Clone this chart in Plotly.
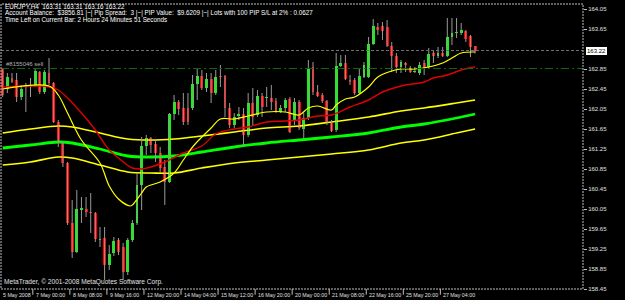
import plotly.graph_objects as go

# ---------------- data (EURJPY H4) ----------------
opens = [162.85,162.45,162.67,162.63,162.29,162.49,162.51,162.53,162.79,162.39,
         162.77,162.57,161.79,161.37,160.97,159.77,159.19,160.03,160.05,159.99,
         159.97,159.43,159.47,158.93,159.17,159.43,159.29,158.79,159.43,159.77,
         160.53,161.31,161.47,161.35,161.17,160.89,160.59,161.95,162.19,162.07,
         162.07,162.07,162.55,162.71,162.47,162.65,162.37,162.71,162.71,162.07,
         161.73,161.91,161.95,161.53,162.17,161.93,162.31,162.27,162.27,162.21,
         161.99,162.07,162.25,161.83,162.19,161.65,161.87,162.89,162.39,162.33,
         162.21,161.77,161.63,162.91,162.97,162.63,162.63,162.37,162.69,162.69,
         163.35,163.69,163.71,163.69,163.31,163.11,162.89,162.97,162.85,162.79,
         162.77,162.97,162.89,163.17,163.11,163.17,163.11,163.49,163.57,163.57,
         163.61,163.51,163.31]
highs = [162.87,162.77,162.77,162.77,162.53,162.57,162.67,162.87,162.81,162.83,
         163.07,162.59,161.83,161.39,160.99,160.23,160.43,160.29,160.29,160.37,
         159.99,159.69,159.69,159.33,159.49,159.47,159.37,159.47,159.83,160.77,
         161.49,161.53,161.49,161.43,161.29,161.03,161.97,162.33,162.23,162.37,
         162.37,162.73,162.87,162.83,162.77,162.77,162.83,162.93,162.73,162.17,
         161.97,162.09,162.07,162.37,162.47,162.43,162.37,162.49,162.53,162.27,
         162.13,162.27,162.29,162.27,162.23,161.97,163.03,162.99,162.53,162.37,
         162.23,161.83,163.17,163.13,163.13,162.73,162.67,162.87,162.99,163.49,
         163.85,163.77,163.79,163.83,163.39,163.17,163.03,162.99,162.91,162.89,
         162.99,163.03,163.27,163.23,163.29,163.29,163.87,163.87,163.87,163.77,
         163.63,163.53,163.31]
lows = [162.29,162.37,162.57,162.19,162.23,161.99,162.29,162.49,162.35,162.35,
        162.53,161.77,161.29,160.89,159.73,159.07,159.17,159.77,159.89,159.57,
        159.39,159.29,158.63,158.83,159.11,159.13,158.63,158.73,159.39,159.73,
        160.03,161.13,161.17,160.99,160.77,160.13,160.57,161.83,161.93,161.73,
        161.73,162.03,162.23,162.43,162.39,162.17,162.33,162.49,161.89,161.67,
        161.67,161.83,161.29,161.49,161.73,161.89,161.89,162.09,162.03,161.97,
        161.97,161.99,161.57,161.73,161.63,161.47,161.83,162.33,162.29,162.17,
        161.73,161.59,161.59,162.89,162.63,162.53,162.33,162.35,162.67,162.67,
        163.33,163.53,163.43,163.29,162.79,162.77,162.77,162.79,162.77,162.77,
        162.73,162.73,162.87,162.97,163.07,163.09,163.09,163.33,163.47,163.53,
        163.39,163.09,163.16]
closes = [162.33,162.69,162.59,162.29,162.45,162.53,162.53,162.81,162.39,162.79,
          162.57,161.79,161.39,160.97,159.77,159.19,160.05,160.07,159.99,159.97,
          159.45,159.45,158.93,159.15,159.41,159.19,158.79,159.43,159.77,160.53,
          161.31,161.47,161.33,161.17,160.87,160.59,161.95,162.19,162.05,161.79,
          161.79,162.55,162.71,162.47,162.65,162.37,162.69,162.69,162.07,161.73,
          161.89,161.95,161.53,162.17,161.89,162.31,162.09,162.29,162.19,161.99,
          162.07,162.23,161.59,162.19,161.67,161.87,162.87,162.39,162.31,162.21,
          161.77,161.61,162.91,162.97,162.65,162.59,162.37,162.71,162.93,163.35,
          163.71,163.63,163.61,163.31,163.11,162.89,162.99,162.93,162.79,162.81,
          162.93,162.87,163.15,163.11,163.17,163.11,163.49,163.57,163.59,163.63,
          163.45,163.29,163.22]

# moving averages / envelope (bar index, price)
ma_fast_x = [0,10,12,14,17,21,23,25,27.5,28,30,31,34,37,39,41,43,45,47,50,53,57,61,64,66,68,71,72,74,76,79,81,84,86,89,92,95,97,99,102]
ma_fast_y = [162.45,162.51,162.33,161.97,161.43,160.97,160.51,160.25,160.11,160.13,160.37,160.49,160.59,160.77,161.03,161.29,161.49,161.67,161.85,161.85,161.91,161.99,161.99,161.93,162.07,162.11,162.03,162.13,162.25,162.29,162.49,162.69,162.81,162.85,162.85,162.89,162.97,163.07,163.17,163.19]
ma_red_x = [0,8,10,12,14,17,20,21,23,25,28,30,32,35,39,43,46,50,53,57,61,64,68,71,75,79,82,86,91,93,96,99,102]
ma_red_y = [162.49,162.51,162.49,162.43,162.27,161.97,161.63,161.49,161.23,161.07,160.87,160.85,160.89,160.99,161.17,161.31,161.55,161.65,161.69,161.79,161.81,161.83,161.91,161.93,162.09,162.23,162.39,162.51,162.59,162.67,162.73,162.83,162.89]
env_x = [0,6,12,15,21,27,32,37,43,50,57,64,71,79,86,91,98,102]
env_upper = [161.57,161.65,161.71,161.69,161.57,161.45,161.43,161.45,161.51,161.59,161.67,161.71,161.79,161.89,162.01,162.07,162.17,162.23]
env_mid = [161.27,161.33,161.39,161.37,161.25,161.11,161.09,161.11,161.19,161.29,161.37,161.43,161.49,161.57,161.69,161.75,161.87,161.95]
env_lower = [160.93,160.99,161.09,161.07,160.93,160.79,160.77,160.77,160.87,160.97,161.03,161.09,161.15,161.23,161.37,161.43,161.57,161.65]

bid_price = 163.22
order_price = 162.86

ytick_vals = [164.05,163.65,162.85,162.45,162.05,161.65,161.25,160.85,160.45,160.05,159.65,159.25,158.85,158.45]
xtick_idx = [6.5,14.5,22.5,30.5,38.5,46.5,54.5,62.5,70.5,78.5,86.5,94.5]
xtick_text = ["7 May 00:00","8 May 08:00","9 May 16:00","12 May 20:00","14 May 04:00",
              "15 May 12:00","16 May 20:00","20 May 00:00","21 May 08:00","22 May 16:00",
              "25 May 20:00","27 May 04:00"]

# ---------------- figure ----------------
W, H = 625, 300
L, R, T, B = 1, 42, 4, 11
XR = [-0.37, 125.3]
YR = [158.45, 164.15]
FONT = "Liberation Sans, Arial"

n = len(opens)
idx = list(range(n))

fig = go.Figure()

# envelope + MAs (behind candles)
fig.add_trace(go.Scatter(x=env_x, y=env_upper, mode="lines", line=dict(color="#FFFF00", width=1.6, shape="spline"), hoverinfo="skip"))
fig.add_trace(go.Scatter(x=env_x, y=env_lower, mode="lines", line=dict(color="#FFFF00", width=1.6, shape="spline"), hoverinfo="skip"))
fig.add_trace(go.Scatter(x=env_x, y=env_mid, mode="lines", line=dict(color="#00FF00", width=2.8, shape="spline"), hoverinfo="skip"))

# wicks
wx, wy = [], []
for i in idx:
    wx += [i, i, None]
    wy += [lows[i], highs[i], None]
fig.add_trace(go.Scatter(x=wx, y=wy, mode="lines", line=dict(color="#9A9A9A", width=1), hoverinfo="skip"))

# bodies
base = [min(o, c) for o, c in zip(opens, closes)]
hgt = [abs(c - o) for o, c in zip(opens, closes)]
cols = ["#00FF00" if c > o else "#FF0000" for o, c in zip(opens, closes)]
fig.add_trace(go.Bar(x=idx, y=hgt, base=base, width=0.62, marker=dict(color=cols, line=dict(width=0)), hoverinfo="skip"))

fig.add_trace(go.Scatter(x=ma_red_x, y=ma_red_y, mode="lines", line=dict(color="#E00000", width=1.4, shape="spline"), hoverinfo="skip"))
fig.add_trace(go.Scatter(x=ma_fast_x, y=ma_fast_y, mode="lines", line=dict(color="#FFFF00", width=1.2, shape="spline"), hoverinfo="skip"))

shapes = []
# bid line & order line
shapes.append(dict(type="line", xref="paper", yref="y", x0=0, x1=1, y0=bid_price, y1=bid_price,
                   line=dict(color="#707070", width=1, dash="3px,2px")))
shapes.append(dict(type="line", xref="paper", yref="y", x0=0, x1=1, y0=order_price, y1=order_price,
                   line=dict(color="#0A6A0A", width=1, dash="8px,3px,2px,3px")))
# frame
shapes.append(dict(type="rect", xref="paper", yref="paper", x0=0, x1=1, y0=0, y1=1,
                   line=dict(color="#C0C0C0", width=1, dash="2px,1px")))
# x tick marks
for t in xtick_idx:
    shapes.append(dict(type="line", xref="x", yref="paper", x0=t, x1=t, y0=0, y1=-0.02,
                       line=dict(color="#C0C0C0", width=1)))

XF = dict(family=FONT, size=5.3, color="#E0E0E0")
annotations = []
# x labels
annotations.append(dict(text="5 May 2008", xref="paper", yref="paper", x=0, y=-0.005, xanchor="left", yanchor="top",
                        showarrow=False, font=XF))
for t, s in zip(xtick_idx, xtick_text):
    annotations.append(dict(text=s, xref="x", yref="paper", x=t, y=-0.005, xanchor="left", yanchor="top",
                            xshift=1, showarrow=False, font=XF))
# current price box
annotations.append(dict(text="163.22", xref="paper", yref="y", x=1, y=bid_price, xanchor="left", yanchor="middle",
                        xshift=3, showarrow=False, bgcolor="#FFFFFF", bordercolor="#FFFFFF", borderpad=0,
                        font=dict(family=FONT, size=6, color="#000000")))
# header texts
hdr = ["EURJPY,H4  163.31 163.31 163.16 163.22",
       "Account Balance:  $3856.81 |~| Pip Spread:  3 |~| PIP Value:  $9.6209 |~| Lots with 100 PIP S/L at 2% : 0.0627",
       "Time Left on Current Bar: 2 Hours 24 Minutes 51 Seconds"]
for k, s in enumerate(hdr):
    annotations.append(dict(text=s, xref="paper", yref="paper", x=0.004, y=1 - (2.5 + 6.7 * k) / 285,
                            xanchor="left", yanchor="middle", showarrow=False,
                            font=dict(family=FONT, size=6.3, color="#FFFFFF")))
annotations.append(dict(text="#8155046 sell", xref="paper", yref="y", x=0.006, y=order_price, xanchor="left",
                        yanchor="bottom", yshift=0, showarrow=False, font=dict(family=FONT, size=6, color="#B0B0B0")))
annotations.append(dict(text="MetaTrader, © 2001-2008 MetaQuotes Software Corp.", xref="paper", yref="paper",
                        x=0.002, y=0.005, xanchor="left", yanchor="bottom", showarrow=False,
                        font=dict(family=FONT, size=6.6, color="#E0E0E0")))

fig.update_layout(
    width=W, height=H, margin=dict(l=L, r=R, t=T, b=B),
    paper_bgcolor="#000000", plot_bgcolor="#000000",
    showlegend=False, bargap=0,
    shapes=shapes, annotations=annotations,
    xaxis=dict(range=XR, showgrid=False, zeroline=False, showticklabels=False, ticks="", fixedrange=True),
    yaxis=dict(range=YR, side="right", showgrid=False, zeroline=False, tickvals=ytick_vals,
               ticktext=["%.2f" % v for v in ytick_vals], ticks="outside", ticklen=3, tickcolor="#C0C0C0",
               tickfont=dict(family=FONT, size=6, color="#E0E0E0"), fixedrange=True),
)

fig.write_html("out.html")
